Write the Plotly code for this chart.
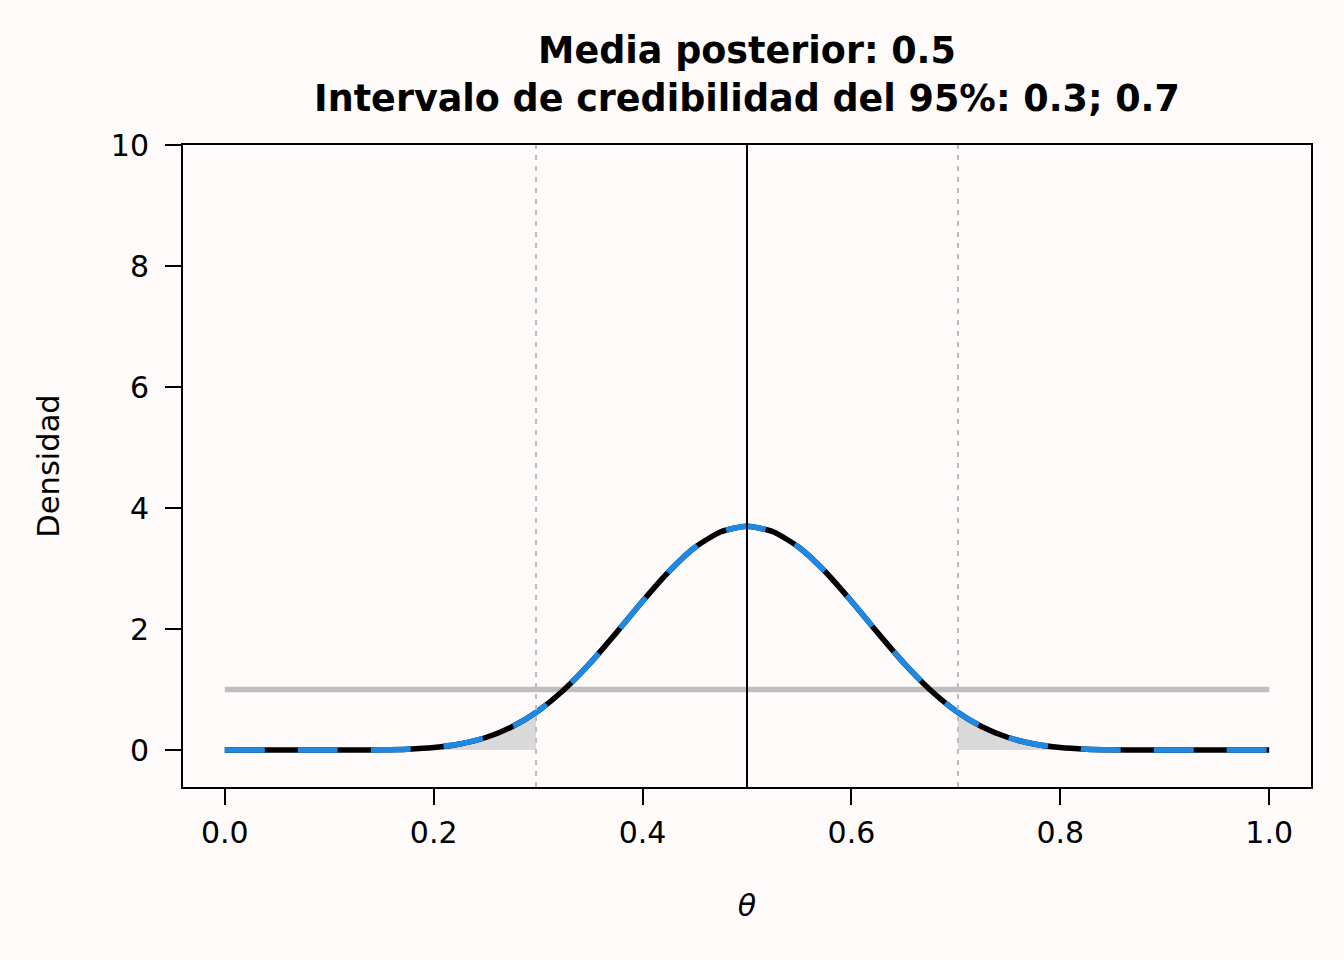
import plotly.graph_objects as go

# Posterior density (symmetric around 0.5)
theta = [
    0.000, 0.025, 0.050, 0.075, 0.100, 0.125, 0.150, 0.175, 0.200, 0.225,
    0.250, 0.275, 0.300, 0.325, 0.350, 0.375, 0.400, 0.425, 0.450, 0.475,
    0.500, 0.525, 0.550, 0.575, 0.600, 0.625, 0.650, 0.675, 0.700, 0.725,
    0.750, 0.775, 0.800, 0.825, 0.850, 0.875, 0.900, 0.925, 0.950, 0.975,
    1.000,
]
posterior = [
    0.000, 0.000, 0.000, 0.000, 0.0001, 0.001, 0.0044, 0.0153, 0.0426, 0.101,
    0.208, 0.385, 0.647, 1.001, 1.441, 1.941, 2.460, 2.947, 3.348, 3.608,
    3.700, 3.608, 3.348, 2.947, 2.460, 1.941, 1.441, 1.001, 0.647, 0.385,
    0.208, 0.101, 0.0426, 0.0153, 0.0044, 0.001, 0.0001, 0.000, 0.000, 0.000,
    0.000,
]
prior_x = [0.0, 1.0]
prior_y = [1.0, 1.0]

post_mean = 0.5
ci_low, ci_high = 0.298, 0.702
ci_density = 0.63

x_ticks = [0.0, 0.2, 0.4, 0.6, 0.8, 1.0]
y_ticks = [0, 2, 4, 6, 8, 10]

BG = "#fffbfa"
FONT = "DejaVu Sans"

# tails outside the credible interval
left_x = [x for x in theta if x < ci_low] + [ci_low]
left_y = [y for x, y in zip(theta, posterior) if x < ci_low] + [ci_density]
right_x = [ci_high] + [x for x in theta if x > ci_high]
right_y = [ci_density] + [y for x, y in zip(theta, posterior) if x > ci_high]

fig = go.Figure()
for tx, ty in ((left_x, left_y), (right_x, right_y)):
    fig.add_trace(
        go.Scatter(
            x=tx, y=ty, mode="lines", fill="tozeroy", fillcolor="#d9d9d9",
            line={"width": 0, "shape": "spline", "smoothing": 0.6},
            hoverinfo="skip",
        )
    )

fig.add_trace(
    go.Scatter(x=prior_x, y=prior_y, mode="lines", line={"color": "#bebebe", "width": 5.5})
)
fig.add_trace(
    go.Scatter(
        x=theta, y=posterior, mode="lines",
        line={"color": "black", "width": 5.5, "shape": "spline", "smoothing": 0.6},
    )
)
fig.add_trace(
    go.Scatter(
        x=theta, y=posterior, mode="lines",
        line={"color": "#1e88e5", "width": 5.5, "dash": "40px,33px",
              "shape": "spline", "smoothing": 0.6},
    )
)

for xv in (ci_low, ci_high):
    fig.add_vline(x=xv, line={"color": "#bdbdbd", "width": 2, "dash": "5px,6px"}, layer="above")
fig.add_vline(x=post_mean, line={"color": "black", "width": 2}, layer="above")

axis_common = {
    "showline": True, "linecolor": "black", "linewidth": 2, "mirror": True,
    "ticks": "outside", "ticklen": 16, "tickwidth": 2, "tickcolor": "black",
    "showgrid": False, "zeroline": False,
    "tickfont": {"family": FONT, "size": 30, "color": "black"},
}

fig.update_layout(
    width=1344, height=960,
    paper_bgcolor=BG, plot_bgcolor=BG,
    showlegend=False,
    margin={"l": 183, "r": 33, "t": 145, "b": 173},
    title={
        "text": "<b>Media posterior: 0.5<br>Intervalo de credibilidad del 95%: 0.3; 0.7</b>",
        "x": 0.5558, "xanchor": "center",
        "y": 0.934, "yanchor": "top", "yref": "container",
        "font": {"family": FONT, "size": 36.5, "color": "black"},
    },
    xaxis={
        **axis_common,
        "range": [-0.04, 1.04],
        "tickvals": x_ticks, "tickformat": ".1f",
        "ticklabelstandoff": 2,
        "title": {"text": "<i>θ</i>", "standoff": 46,
                  "font": {"family": FONT, "size": 30, "color": "black"}},
    },
    yaxis={
        **axis_common,
        "range": [-0.61, 10],
        "tickvals": y_ticks,
        "ticklabelstandoff": 10,
        "title": {"text": "Densidad", "standoff": 42,
                  "font": {"family": FONT, "size": 30.5, "color": "black"}},
    },
)

fig.write_html(
    "out.html",
    config={"displayModeBar": False},
    post_script="document.body.style.margin='0';document.body.style.background='%s';" % BG,
)
